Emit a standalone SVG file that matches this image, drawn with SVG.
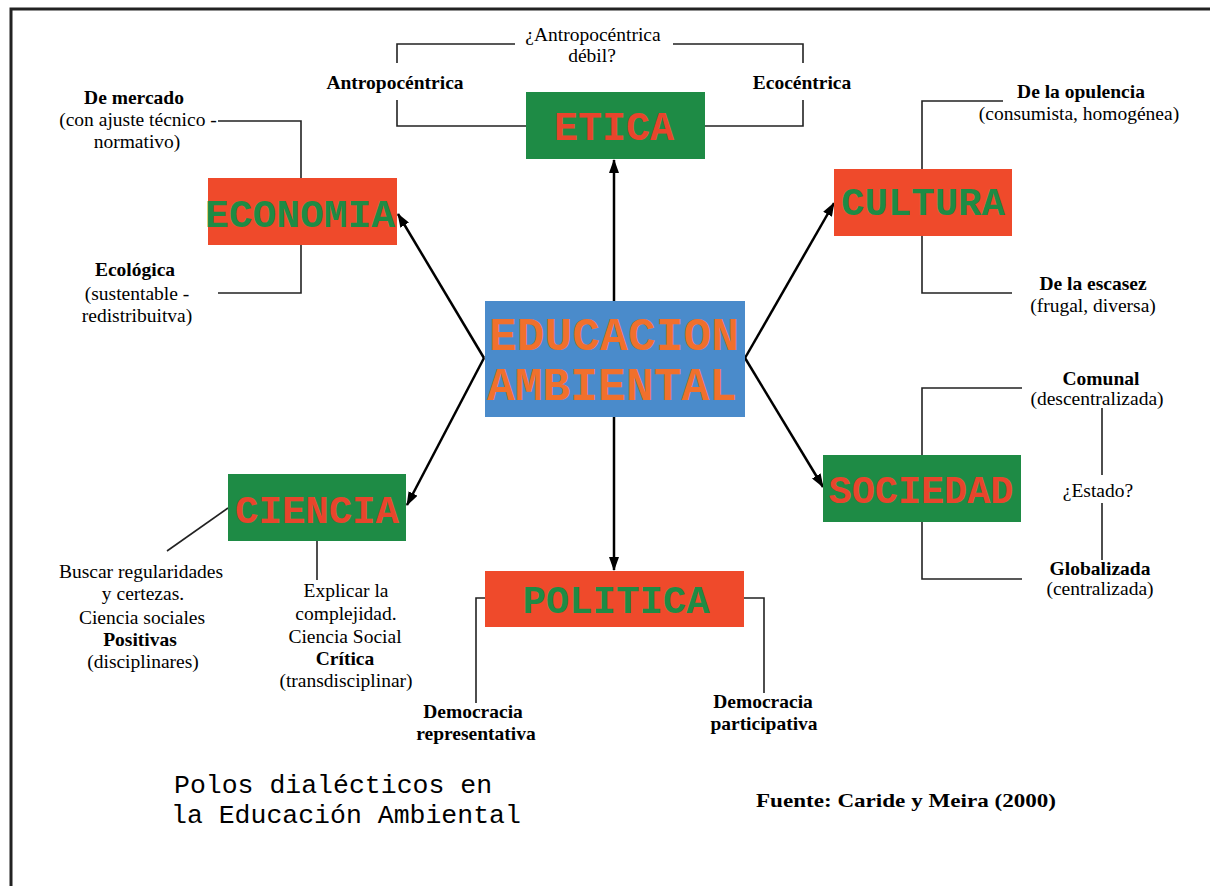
<svg xmlns="http://www.w3.org/2000/svg" width="1210" height="886" viewBox="0 0 1210 886">
<defs>
<marker id="ah" markerUnits="userSpaceOnUse" markerWidth="14" markerHeight="10" refX="13" refY="5" orient="auto">
<path d="M0,0 L14,5 L0,10 z" fill="#000"/>
</marker>
<style>
.red{fill:#EF4A2B}
.grn{fill:#1E8B45}
.blu{fill:#4A8BCB}
.nt{font-family:"Liberation Mono","Courier New",monospace;font-weight:bold;text-anchor:middle}
.tr{fill:#E8452C}
.tg{fill:#1E8B45}
.to{fill:#F0702C}
.lb{font-family:"Liberation Serif","Times New Roman",serif;font-size:19.5px;text-anchor:middle;fill:#000}
.b{font-weight:bold}
.br{fill:none;stroke:#222;stroke-width:1.6}
.ar{stroke:#000;stroke-width:2.5;fill:none;marker-end:url(#ah)}
.ft{font-family:"Liberation Mono","Courier New",monospace;font-size:26.5px;fill:#000}
</style>
</defs>
<rect width="1210" height="886" fill="#fff"/>
<g id="frame">
<path d="M11,886 L11,9 L1210,9" fill="none" stroke="#222" stroke-width="3"/>
</g>
<g id="brackets">
<path class="br" d="M526,126 L397,126 L397,100 M397,63 L397,44 L515,44"/>
<path class="br" d="M705,126 L803,126 L803,100 M803,63 L803,44 L673,44"/>
<path class="br" d="M301,178 L301,121 L218,121"/>
<path class="br" d="M301,245 L301,293 L218,293"/>
<path class="br" d="M922,169 L922,101 L1003,101"/>
<path class="br" d="M922,236 L922,293 L1012,293"/>
<path class="br" d="M922,455 L922,388 L1022,388"/>
<path class="br" d="M922,522 L922,579 L1022,579"/>
<path class="br" d="M1102,408 L1102,475 M1102,503 L1102,560"/>
<path class="br" d="M228,508 L167,551"/>
<path class="br" d="M317,541 L317,580"/>
<path class="br" d="M485,598 L476,598 L476,703"/>
<path class="br" d="M744,598 L764,598 L764,693"/>
</g>
<g id="connectors">
<line class="ar" x1="614" y1="301" x2="614" y2="160"/>
<line class="ar" x1="484" y1="358" x2="398" y2="214"/>
<line class="ar" x1="745" y1="358" x2="834" y2="203"/>
<line class="ar" x1="484" y1="358" x2="407" y2="505"/>
<line class="ar" x1="745" y1="358" x2="823" y2="487"/>
<line class="ar" x1="614" y1="417" x2="614" y2="570"/>
</g>
<g id="educacion">
<rect class="blu" x="485" y="301" width="260" height="116"/>
<text class="nt to" x="614" y="350" font-size="46" textLength="250" lengthAdjust="spacingAndGlyphs">EDUCACION</text>
<text class="nt to" x="612" y="400" font-size="46" textLength="250" lengthAdjust="spacingAndGlyphs">AMBIENTAL</text>
</g>
<g id="etica">
<rect class="grn" x="526" y="92" width="179" height="67"/>
<text class="nt tr" x="614" y="140" font-size="40">ETICA</text>
</g>
<g id="economia">
<rect class="red" x="208" y="178" width="189" height="67"/>
<text class="nt tg" x="300" y="227" font-size="39.5" textLength="190" lengthAdjust="spacingAndGlyphs">ECONOMIA</text>
</g>
<g id="cultura">
<rect class="red" x="834" y="169" width="178" height="67"/>
<text class="nt tg" x="923" y="215" font-size="39">CULTURA</text>
</g>
<g id="ciencia">
<rect class="grn" x="228" y="474" width="178" height="67"/>
<text class="nt tr" x="317" y="523" font-size="39">CIENCIA</text>
</g>
<g id="sociedad">
<rect class="grn" x="823" y="455" width="198" height="67"/>
<text class="nt tr" x="921" y="503" font-size="38.5">SOCIEDAD</text>
</g>
<g id="politica">
<rect class="red" x="485" y="571" width="259" height="56"/>
<text class="nt tg" x="616" y="613" font-size="39">POLITICA</text>
</g>
<g id="labels">
<text class="lb" x="593" y="41">¿Antropocéntrica</text>
<text class="lb" x="592" y="62">débil?</text>
<text class="lb b" x="395" y="89">Antropocéntrica</text>
<text class="lb b" x="802" y="89">Ecocéntrica</text>
<text class="lb b" x="134" y="104">De mercado</text>
<text class="lb" x="138" y="126">(con ajuste técnico -</text>
<text class="lb" x="137" y="148">normativo)</text>
<text class="lb b" x="135" y="276">Ecológica</text>
<text class="lb" x="137" y="300">(sustentable -</text>
<text class="lb" x="137" y="322">redistribuitva)</text>
<text class="lb b" x="1081" y="98">De la opulencia</text>
<text class="lb" x="1079" y="120">(consumista, homogénea)</text>
<text class="lb b" x="1093" y="290">De la escasez</text>
<text class="lb" x="1093" y="312">(frugal, diversa)</text>
<text class="lb b" x="1101" y="385">Comunal</text>
<text class="lb" x="1097" y="405">(descentralizada)</text>
<text class="lb" x="1098" y="497">¿Estado?</text>
<text class="lb b" x="1100" y="575">Globalizada</text>
<text class="lb" x="1100" y="595">(centralizada)</text>
<text class="lb" x="141" y="578">Buscar regularidades</text>
<text class="lb" x="143" y="600">y certezas.</text>
<text class="lb" x="142" y="624">Ciencia sociales</text>
<text class="lb b" x="140" y="646">Positivas</text>
<text class="lb" x="143" y="668">(disciplinares)</text>
<text class="lb" x="346" y="597">Explicar la</text>
<text class="lb" x="346" y="620">complejidad.</text>
<text class="lb" x="345" y="643">Ciencia Social</text>
<text class="lb b" x="345" y="665">Crítica</text>
<text class="lb" x="346" y="687">(transdisciplinar)</text>
<text class="lb b" x="473" y="718">Democracia</text>
<text class="lb b" x="476" y="740">representativa</text>
<text class="lb b" x="763" y="708">Democracia</text>
<text class="lb b" x="764" y="730">participativa</text>
<text class="ft" x="174" y="793">Polos dialécticos en</text>
<text class="ft" x="171" y="823">la Educación Ambiental</text>
<text class="lb b" x="906" y="807" font-size="21" textLength="300" lengthAdjust="spacingAndGlyphs">Fuente: Caride y Meira (2000)</text>
</g>
</svg>
